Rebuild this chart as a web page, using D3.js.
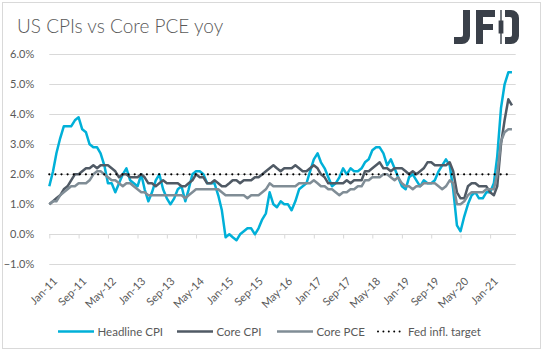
<!DOCTYPE html>
<html>
<head>
<meta charset="utf-8">
<script src="https://cdn.jsdelivr.net/npm/d3@7"></script>
<style>
  body { margin: 0; background: #fff; }
  svg { display: block; font-family: Lato, "Liberation Sans", sans-serif; }
</style>
</head>
<body>
<div id="chart"></div>
<script>
// monthly yoy %, Jan-11 .. Jul-21
const startMonth = "2011-01";
const headlineCPI = [
  1.6,2.1,2.7,3.2,3.6,3.6,3.6,3.8,3.9,3.5,3.4,3.0,
  2.9,2.9,2.7,2.3,1.7,1.7,1.4,1.7,2.0,2.2,1.8,1.7,
  1.6,2.0,1.5,1.1,1.4,1.8,2.0,1.5,1.2,1.0,1.2,1.5,
  1.6,1.1,1.5,2.0,2.1,2.1,2.0,1.7,1.7,1.7,1.3,0.8,
  -0.1,0.0,-0.1,-0.2,0.0,0.1,0.2,0.2,0.0,0.2,0.5,0.7,
  1.4,1.0,0.9,1.1,1.0,1.0,0.8,1.1,1.5,1.6,1.7,2.1,
  2.5,2.7,2.4,2.2,1.9,1.6,1.7,1.9,2.2,2.0,2.2,2.1,
  2.1,2.2,2.4,2.5,2.8,2.9,2.9,2.7,2.3,2.5,2.2,1.9,
  1.6,1.5,1.9,2.0,1.8,1.6,1.8,1.7,1.7,1.8,2.1,2.3,
  2.5,2.3,1.5,0.3,0.1,0.6,1.0,1.3,1.4,1.2,1.2,1.4,
  1.4,1.7,2.6,4.2,5.0,5.4,5.4
];
const coreCPI = [
  1.0,1.1,1.2,1.3,1.5,1.6,1.8,2.0,2.0,2.1,2.2,2.2,
  2.3,2.2,2.3,2.3,2.3,2.2,2.1,1.9,2.0,2.0,1.9,1.9,
  1.9,2.0,1.9,1.7,1.7,1.6,1.7,1.8,1.7,1.7,1.7,1.7,
  1.6,1.6,1.7,1.8,2.0,1.9,1.9,1.7,1.7,1.8,1.7,1.6,
  1.6,1.7,1.8,1.8,1.7,1.8,1.8,1.8,1.9,1.9,2.0,2.1,
  2.2,2.3,2.2,2.1,2.2,2.2,2.2,2.3,2.2,2.1,2.1,2.2,
  2.3,2.2,2.0,1.9,1.7,1.7,1.7,1.7,1.7,1.8,1.7,1.8,
  1.8,1.8,2.1,2.1,2.2,2.3,2.4,2.2,2.2,2.1,2.2,2.2,
  2.2,2.1,2.0,2.1,2.0,2.1,2.2,2.4,2.4,2.3,2.3,2.3,
  2.3,2.4,2.1,1.4,1.2,1.2,1.6,1.7,1.7,1.6,1.6,1.6,
  1.4,1.3,1.6,3.0,3.8,4.5,4.3
];
const corePCE = [
  1.0,1.1,1.1,1.3,1.4,1.5,1.6,1.6,1.7,1.7,1.7,1.8,
  2.0,2.1,2.1,2.0,1.9,1.8,1.8,1.7,1.6,1.7,1.7,1.6,
  1.5,1.4,1.4,1.3,1.3,1.3,1.3,1.3,1.3,1.3,1.3,1.3,
  1.3,1.2,1.3,1.4,1.5,1.5,1.5,1.5,1.5,1.5,1.5,1.4,
  1.3,1.3,1.3,1.3,1.3,1.3,1.2,1.3,1.3,1.3,1.4,1.5,
  1.7,1.6,1.6,1.6,1.6,1.6,1.6,1.6,1.7,1.7,1.7,1.7,
  1.8,1.7,1.6,1.6,1.5,1.5,1.4,1.3,1.4,1.4,1.5,1.5,
  1.6,1.6,1.8,1.8,1.9,1.9,1.9,2.0,2.0,1.9,1.8,1.9,
  1.7,1.6,1.6,1.5,1.6,1.6,1.7,1.7,1.7,1.7,1.6,1.5,
  1.6,1.8,1.7,1.0,1.0,1.1,1.3,1.4,1.4,1.4,1.4,1.5,
  1.5,1.5,2.0,3.1,3.4,3.5,3.5
];
const fedTarget = 2.0;
const yTicks = [-1, 0, 1, 2, 3, 4, 5, 6];
const xTickLabels = ["Jan-11","Sep-11","May-12","Jan-13","Sep-13","May-14","Jan-15","Sep-15",
                     "May-16","Jan-17","Sep-17","May-18","Jan-19","Sep-19","May-20","Jan-21"];
const seriesNames = ["Headline CPI", "Core CPI", "Core PCE", "Fed infl. target"];

const W = 543, H = 351;
const plot = { left: 49.3, right: 515.7, top: 54.3, bottom: 264.3 };

const months = d3.timeMonth.range(d3.timeParse("%Y-%m")(startMonth), new Date(2021, 7, 1));
const parseTick = d3.timeParse("%b-%y");

const svg = d3.select("#chart").append("svg")
    .attr("width", W)
    .attr("height", H);

svg.append("rect")
    .attr("x", 2.5).attr("y", 2.5)
    .attr("width", 538).attr("height", 346)
    .attr("fill", "#fff")
    .attr("stroke", "#d9d9d9");

svg.append("text")
    .attr("x", 17)
    .attr("y", 33)
    .attr("fill", "#595959")
    .style("font-size", "19px")
    .style("font-weight", 300)
    .text("US CPIs vs Core PCE yoy");

// logo
const logo = svg.append("g").attr("fill", "#3a4049");
logo.append("path").attr("d", "M463,10 H470 V36 A8,8 0 0 1 462,44 H454 V37 H461 A2,2 0 0 0 463,35 Z");
logo.append("path").attr("d", "M476,10 H495 V17 H483 V24 H493 V30 H483 V44 H476 Z");
logo.append("rect").attr("x", 500.3).attr("y", 10).attr("width", 1.4).attr("height", 34);
logo.append("rect").attr("x", 498.6).attr("y", 20.5).attr("width", 4.8).attr("height", 13);
logo.append("path").attr("d", "M505,10 H511 A8,8 0 0 1 519,18 V36 A8,8 0 0 1 511,44 H505 V37 H510 A2,2 0 0 0 512,35 V19 A2,2 0 0 0 510,17 H505 Z");

const x = d3.scaleTime()
    .domain([months[0], new Date(2021, 7, 1)])
    .range([plot.left, plot.right]);

const y = d3.scaleLinear()
    .domain([-1, 6])
    .range([plot.bottom, plot.top]);

// gridlines
svg.append("g")
    .selectAll("line")
    .data(yTicks)
    .join("line")
    .attr("x1", plot.left).attr("x2", plot.right)
    .attr("y1", d => Math.round(y(d)) + 0.5)
    .attr("y2", d => Math.round(y(d)) + 0.5)
    .attr("stroke", "#d9d9d9");

const yAxis = svg.append("g")
    .attr("transform", `translate(${plot.left - 12},0)`)
    .call(d3.axisLeft(y).tickValues(yTicks).tickSize(0).tickFormat(d => d3.format(".1f")(d) + "%"));
yAxis.select(".domain").remove();
yAxis.selectAll("text")
    .attr("fill", "#595959")
    .style("font-size", "11px")
    .style("font-family", "Lato, 'Liberation Sans', sans-serif");

// x axis at 0%
const xAxis = svg.append("g")
    .attr("transform", `translate(0,${Math.round(y(0)) + 0.5})`)
    .call(d3.axisBottom(x).tickValues(xTickLabels.map(parseTick)).tickSize(4).tickFormat(""));
xAxis.select(".domain").attr("stroke", "#d9d9d9").attr("d", `M${plot.left},0H${plot.right}`);
xAxis.selectAll(".tick line").attr("stroke", "#d9d9d9");

// x labels at low position
svg.append("g")
    .selectAll("text")
    .data(xTickLabels)
    .join("text")
    .attr("transform", d => `translate(${x(parseTick(d)) + 6},${plot.bottom + 15}) rotate(-45)`)
    .attr("text-anchor", "end")
    .attr("dy", "0.35em")
    .attr("fill", "#595959")
    .style("font-size", "11px")
    .text(d => d);

const line = d3.line()
    .x((d, i) => x(months[i]))
    .y(d => y(d));

const colors = ["#00b0d8", "#505a65", "#808d96"];
[headlineCPI, coreCPI, corePCE].forEach((s, i) => {
    svg.append("path")
        .datum(s)
        .attr("fill", "none")
        .attr("stroke", colors[i])
        .attr("stroke-width", 2.5)
        .attr("stroke-linejoin", "round")
        .attr("d", line);
});

svg.append("line")
    .attr("x1", x(months[0])).attr("x2", x(months[months.length - 1]))
    .attr("y1", y(fedTarget)).attr("y2", y(fedTarget))
    .attr("stroke", "#000")
    .attr("stroke-width", 2.2)
    .attr("stroke-linecap", "round")
    .attr("stroke-dasharray", "0,6.1");

// legend
const legendX = [58, 177, 277, 377];
const legendY = 331.5;
const lg = svg.append("g");
seriesNames.forEach((name, i) => {
    const g = lg.append("g").attr("transform", `translate(${legendX[i]},${legendY})`);
    if (i < 3) {
        g.append("line").attr("x1", 0).attr("x2", 36).attr("y1", 0).attr("y2", 0)
            .attr("stroke", colors[i]).attr("stroke-width", 2.5);
    } else {
        g.append("line").attr("x1", 1).attr("x2", 28).attr("y1", 0).attr("y2", 0)
            .attr("stroke", "#000").attr("stroke-width", 2)
            .attr("stroke-linecap", "round")
            .attr("stroke-dasharray", "0,5.4");
    }
    g.append("text")
        .attr("x", i < 3 ? 39.5 : 31)
        .attr("dy", "0.35em")
        .attr("fill", "#595959")
        .style("font-size", "11.5px")
        .text(name);
});
</script>
</body>
</html>
